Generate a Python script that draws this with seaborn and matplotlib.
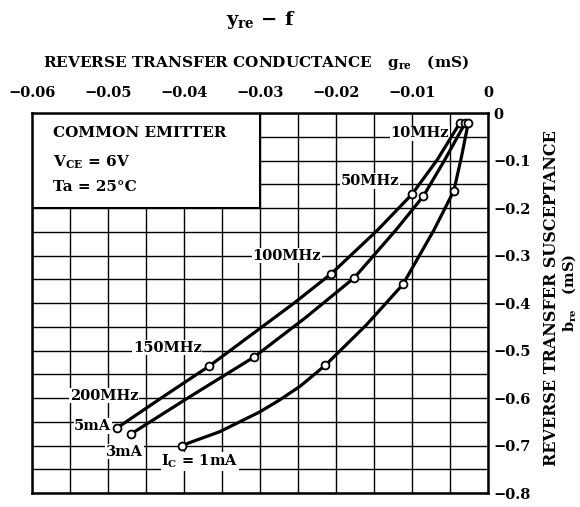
import numpy as np
import pandas as pd
import matplotlib.pyplot as plt
import seaborn as sns
from matplotlib.patches import Rectangle

# y_re - f (mS)
g_5ma = [-0.0037, -0.0067, -0.0100, -0.0145, -0.0206, -0.0255, -0.0367, -0.0430, -0.0488]
b_5ma = [-0.021, -0.099, -0.171, -0.246, -0.338, -0.400, -0.533, -0.600, -0.663]
g_3ma = [-0.0030, -0.0057, -0.0085, -0.0121, -0.0176, -0.0241, -0.0308, -0.0391, -0.0470]
b_3ma = [-0.021, -0.099, -0.175, -0.246, -0.347, -0.432, -0.514, -0.596, -0.676]
g_1ma = [-0.0026, -0.0035, -0.0045, -0.0071, -0.0112, -0.0160, -0.0214, -0.0247,
         -0.0274, -0.0300, -0.0353, -0.0403]
b_1ma = [-0.021, -0.093, -0.164, -0.246, -0.361, -0.446, -0.531, -0.575,
         -0.604, -0.629, -0.671, -0.700]
# which points carry a marker (10, 50, 100, 150, 200 MHz)
marks_5ma = [0, 2, 4, 6, 8]
marks_3ma = [0, 2, 4, 6, 8]
marks_1ma = [0, 2, 4, 6, 11]

x_ticks = [-0.06, -0.05, -0.04, -0.03, -0.02, -0.01, 0]
x_labels = ['\u22120.06', '\u22120.05', '\u22120.04', '\u22120.03', '\u22120.02', '\u22120.01', '0']
y_ticks = [0, -0.1, -0.2, -0.3, -0.4, -0.5, -0.6, -0.7, -0.8]
y_labels = ['0', '\u22120.1', '\u22120.2', '\u22120.3', '\u22120.4', '\u22120.5', '\u22120.6', '\u22120.7', '\u22120.8']

freq_labels = ['10MHz', '50MHz', '100MHz', '150MHz', '200MHz']
freq_pos = [(-0.0090, -0.043), (-0.0155, -0.143), (-0.0265, -0.300), (-0.0422, -0.494), (-0.0505, -0.595)]
curr_labels = ['5mA', '3mA', 'I$_C$ = 1mA']
curr_pos = [(-0.0520, -0.659), (-0.0478, -0.713), (-0.0379, -0.734)]

curves = []
for name, g, b, m in [('5mA', g_5ma, b_5ma, marks_5ma),
                      ('3mA', g_3ma, b_3ma, marks_3ma),
                      ('1mA', g_1ma, b_1ma, marks_1ma)]:
    d = pd.DataFrame({'g': g, 'b': b, 'ic': name})
    d['mark'] = d.index.isin(m)
    curves.append(d)
df = pd.concat(curves, ignore_index=True)

sns.set_style('white')
plt.rcParams['font.family'] = ['DejaVu Serif']
plt.rcParams['font.weight'] = 'bold'
plt.rcParams['mathtext.default'] = 'regular'
plt.rcParams['text.color'] = 'black'
plt.rcParams['xtick.labelcolor'] = 'black'
plt.rcParams['ytick.labelcolor'] = 'black'

fig = plt.figure(figsize=(5.8, 5.07), dpi=100)
ax = fig.add_axes([32 / 580, 14 / 507, 456 / 580, 380 / 507])

sns.lineplot(data=df, x='g', y='b', units='ic', estimator=None, sort=False,
             color='black', lw=2.3, ax=ax, zorder=3)
sns.scatterplot(data=df[df['mark']], x='g', y='b', color='white', edgecolor='black',
                linewidth=1.3, s=32, ax=ax, zorder=4)

ax.set_xlim(-0.06, 0)
ax.set_ylim(-0.8, 0)
ax.set_xticks(x_ticks)
ax.set_xticklabels(x_labels)
ax.set_xticks(np.arange(-0.06, 0.001, 0.005), minor=True)
ax.set_yticks(y_ticks)
ax.set_yticklabels(y_labels)
ax.set_yticks(np.arange(-0.8, 0.001, 0.05), minor=True)
ax.xaxis.tick_top()
ax.yaxis.tick_right()
ax.tick_params(which='both', length=0)
ax.tick_params(axis='x', pad=9, labelsize=10.5)
ax.tick_params(axis='y', pad=4, labelsize=10.5)
ax.set_xlabel('')
ax.set_ylabel('')
ax.set_axisbelow(True)
ax.grid(which='both', color='black', lw=1.0)
for s in ax.spines.values():
    s.set_color('black')
    s.set_linewidth(1.8)

# condition box in the upper left corner
ax.add_patch(Rectangle((-0.06, -0.2), 0.03, 0.2, facecolor='white', edgecolor='black',
                       lw=1.5, zorder=2))
ax.text(-0.0572, -0.042, 'COMMON EMITTER', fontsize=11, va='center', zorder=5)
ax.text(-0.0572, -0.103, 'V$_{CE}$ = 6V', fontsize=11, va='center', zorder=5)
ax.text(-0.0572, -0.156, 'Ta = 25\u00b0C', fontsize=11, va='center', zorder=5)

box = dict(facecolor='white', edgecolor='none', pad=0.5)
for lab, (x, y) in zip(freq_labels, freq_pos):
    ax.text(x, y, lab, fontsize=10.5, ha='center', va='center', bbox=box, zorder=2.5)
for lab, (x, y) in zip(curr_labels, curr_pos):
    ax.text(x, y, lab, fontsize=10.5, ha='center', va='center', bbox=box, zorder=2.5)

fig.text(261 / 580, 1 - 20 / 507, 'y$_{re}$ \u2212 f', fontsize=14, ha='center', va='center')
fig.text(256 / 580, 1 - 63 / 507, 'REVERSE TRANSFER CONDUCTANCE   g$_{re}$   (mS)',
         fontsize=11, ha='center', va='center')
fig.text(552 / 580, 1 - 298 / 507, 'REVERSE TRANSFER SUSCEPTANCE', fontsize=11.5,
         rotation=90, ha='center', va='center')
fig.text(569 / 580, 1 - 293 / 507, 'b$_{re}$   (mS)', fontsize=10.5,
         rotation=90, ha='center', va='center')

fig.savefig('out.png', dpi=100)
